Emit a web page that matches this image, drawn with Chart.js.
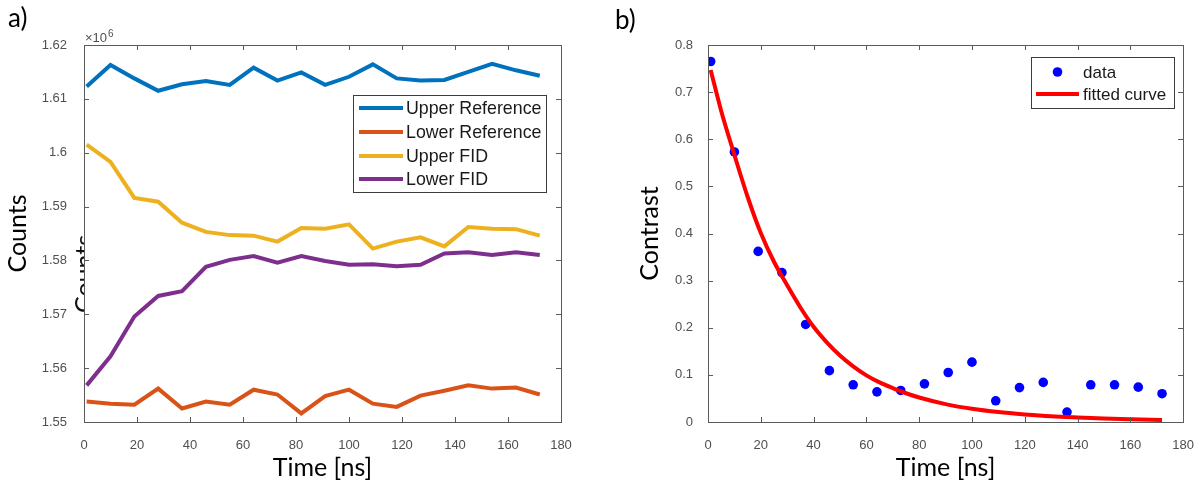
<!DOCTYPE html>
<html><head><meta charset="utf-8">
<script src="https://cdn.jsdelivr.net/npm/chart.js@4.4.1/dist/chart.umd.min.js"></script>
<style>
html,body{margin:0;padding:0;background:#fff;width:1202px;height:490px;overflow:hidden}
.panel{position:absolute;top:0}
canvas{display:block}
</style></head><body>
<div class="panel" style="left:0;width:600px;height:490px"><canvas id="c1" width="600" height="490"></canvas></div>
<div class="panel" style="left:600px;width:602px;height:490px"><canvas id="c2" width="602" height="490"></canvas></div>
<script>
// ---------- data ----------
const timeNs = [1,10,19,28,37,46,55,64,73,82,91,100,109,118,127,136,145,154,163,172];
// counts in units of 10^6
const upperReference = [1.6123,1.6163,1.6138,1.6115,1.6127,1.6133,1.6126,1.6158,1.6134,1.6149,1.6126,1.6141,1.6164,1.6138,1.6134,1.6135,1.6150,1.6165,1.6153,1.6143];
const lowerReference = [1.5538,1.5534,1.5532,1.5562,1.5525,1.5538,1.5532,1.5560,1.5551,1.5516,1.5548,1.5560,1.5534,1.5528,1.5549,1.5558,1.5568,1.5562,1.5564,1.5551];
const upperFID = [1.6015,1.5983,1.5916,1.5909,1.5870,1.5853,1.5847,1.5846,1.5835,1.5860,1.5859,1.5867,1.5822,1.5835,1.5843,1.5826,1.5862,1.5859,1.5858,1.5846];
const lowerFID = [1.5568,1.5622,1.5696,1.5734,1.5743,1.5788,1.5801,1.5808,1.5796,1.5808,1.5799,1.5792,1.5793,1.5789,1.5792,1.5813,1.5815,1.5810,1.5815,1.5810];
const contrastData = [0.765,0.573,0.362,0.317,0.207,0.109,0.079,0.064,0.067,0.081,0.105,0.127,0.045,0.073,0.084,0.021,0.079,0.079,0.074,0.060];
const fitTime = [1,5,10,15,20,25,30,35,40,45,50,55,60,65,70,75,80,90,100,110,120,130,140,150,160,172];
const fitCurve = [0.747,0.660,0.567,0.478,0.401,0.340,0.290,0.243,0.202,0.169,0.141,0.118,0.099,0.084,0.072,0.061,0.052,0.038,0.028,0.021,0.016,0.012,0.0095,0.0075,0.006,0.0045];
const xTickLabels = ['0','20','40','60','80','100','120','140','160','180'];
const countsTickLabels = ['1.55','1.56','1.57','1.58','1.59','1.6','1.61','1.62'];
const contrastTickLabels = ['0','0.1','0.2','0.3','0.4','0.5','0.6','0.7','0.8'];
const seriesNamesA = ['Upper Reference','Lower Reference','Upper FID','Lower FID'];
const seriesNamesB = ['data','fitted curve'];

// ---------- helpers ----------
const pts = (xs, ys) => xs.map((x, i) => ({x, y: ys[i]}));
const TICK_FONT = {family: '"Liberation Sans", Arial, sans-serif', size: 13};
const TICK_COLOR = '#4f4f4f';
const TITLE_FONT = {family: 'Lato, "Open Sans", sans-serif', size: 25};

const framePlugin = {
  id: 'frame',
  beforeDraw(chart, args, o) {
    const ctx = chart.ctx;
    ctx.save();
    ctx.fillStyle = '#fff';
    ctx.fillRect(0, 0, chart.width, chart.height);
    if (o.ghost) {
      ctx.beginPath();
      ctx.rect(0, 0, chart.chartArea.left, chart.height);
      ctx.clip();
      ctx.translate(o.ghost.x, o.ghost.y);
      ctx.rotate(-Math.PI / 2);
      ctx.fillStyle = '#111';
      ctx.font = '25px Lato, sans-serif';
      ctx.textAlign = 'center';
      ctx.textBaseline = 'alphabetic';
      ctx.fillText(o.ghost.text, 0, 0);
    }
    ctx.restore();
  },
  afterDatasetsDraw(chart, args, o) {
    const ctx = chart.ctx, a = chart.chartArea;
    const xs = chart.scales.x, ys = chart.scales.y;
    ctx.save();
    ctx.strokeStyle = '#5a5a5a';
    ctx.lineWidth = 1;
    ctx.beginPath();
    xs.ticks.forEach(t => {
      const p = Math.round(xs.getPixelForValue(t.value)) + 0.5;
      ctx.moveTo(p, a.bottom); ctx.lineTo(p, a.bottom - 5);
      ctx.moveTo(p, a.top); ctx.lineTo(p, a.top + 5);
    });
    ys.ticks.forEach(t => {
      const p = Math.round(ys.getPixelForValue(t.value)) + 0.5;
      ctx.moveTo(a.left, p); ctx.lineTo(a.left + 5, p);
      ctx.moveTo(a.right, p); ctx.lineTo(a.right - 5, p);
    });
    ctx.stroke();
    ctx.strokeRect(Math.round(a.left) + 0.5, Math.round(a.top) + 0.5, Math.round(a.right - a.left), Math.round(a.bottom - a.top));

    // legend inside plot
    const L = o.legend;
    ctx.fillStyle = '#fff';
    ctx.fillRect(L.x, L.y, L.w, L.h);
    ctx.strokeStyle = '#3c3c3c';
    ctx.strokeRect(L.x + 0.5, L.y + 0.5, L.w, L.h);
    ctx.font = L.font;
    ctx.textBaseline = 'middle';
    ctx.textAlign = 'left';
    chart.data.datasets.forEach((ds, i) => {
      const y = L.rows[i];
      if (ds.showLine === false) {
        ctx.fillStyle = ds.backgroundColor;
        ctx.beginPath();
        ctx.arc((L.sx0 + L.sx1) / 2, y, ds.pointRadius, 0, Math.PI * 2);
        ctx.fill();
      } else {
        ctx.strokeStyle = ds.borderColor;
        ctx.lineWidth = ds.borderWidth;
        ctx.beginPath();
        ctx.moveTo(L.sx0, y); ctx.lineTo(L.sx1, y);
        ctx.stroke();
      }
      ctx.fillStyle = '#1a1a1a';
      ctx.fillText(ds.label, L.tx, y + 1);
    });
    ctx.restore();
  },
  afterDraw(chart, args, o) {
    const ctx = chart.ctx;
    ctx.save();
    ctx.fillStyle = '#000';
    ctx.font = '26px Lato, sans-serif';
    ctx.textBaseline = 'alphabetic';
    ctx.fillText(o.panel.text, o.panel.x, o.panel.y);
    if (o.exponent) {
      const a = chart.chartArea;
      ctx.fillStyle = TICK_COLOR;
      ctx.font = '13px "Liberation Sans", Arial, sans-serif';
      ctx.fillText('\u00d710', a.left + 1, 42);
      const w = ctx.measureText('\u00d710').width;
      ctx.font = '10px "Liberation Sans", Arial, sans-serif';
      ctx.fillText('6', a.left + 1 + w + 1, 37);
    }
    ctx.restore();
  }
};

function axes(yMin, yMax, yStep, yLabels, yAxisWidth, yTitle, yTitlePad, yTickPad) {
  return {
    x: {
      type: 'linear', min: 0, max: 180,
      grid: {display: false}, border: {display: false},
      ticks: {stepSize: 20, font: TICK_FONT, color: TICK_COLOR, padding: 8,
        callback: (v) => xTickLabels[Math.round(v / 20)] ?? ''},
      title: {display: true, text: 'Time [ns]', font: TITLE_FONT, color: '#000', padding: {top: 0, bottom: 7}},
      afterFit: (s) => { s.height = 68; }
    },
    y: {
      type: 'linear', min: yMin, max: yMax,
      grid: {display: false}, border: {display: false},
      ticks: {stepSize: yStep, font: TICK_FONT, color: TICK_COLOR, padding: yTickPad,
        callback: (v) => yLabels[Math.round((v - yMin) / yStep)] ?? ''},
      title: {display: true, text: yTitle, font: TITLE_FONT, color: '#000', padding: {top: yTitlePad, bottom: 0}},
      afterFit: (s) => { s.width = yAxisWidth; }
    }
  };
}

Chart.defaults.animation = false;

new Chart(document.getElementById('c1'), {
  type: 'line',
  data: {
    datasets: [
      {label: seriesNamesA[0], data: pts(timeNs, upperReference), borderColor: '#0072BD', backgroundColor: '#0072BD'},
      {label: seriesNamesA[1], data: pts(timeNs, lowerReference), borderColor: '#D95319', backgroundColor: '#D95319'},
      {label: seriesNamesA[2], data: pts(timeNs, upperFID), borderColor: '#EDB120', backgroundColor: '#EDB120'},
      {label: seriesNamesA[3], data: pts(timeNs, lowerFID), borderColor: '#7E2F8E', backgroundColor: '#7E2F8E'}
    ].map(d => Object.assign(d, {borderWidth: 4, pointRadius: 0, tension: 0, fill: false}))
  },
  options: {
    responsive: false, devicePixelRatio: 1, animation: false,
    layout: {padding: {left: 0, right: 39, top: 45, bottom: 0}},
    scales: axes(1.55, 1.62, 0.01, countsTickLabels, 84, 'Counts', 3, 9),
    plugins: {
      legend: {display: false}, tooltip: {enabled: false},
      frame: {
        panel: {text: 'a)', x: 8, y: 27},
        exponent: true,
        ghost: {text: 'Counts', x: 93, y: 274},
        legend: {x: 353, y: 95, w: 193, h: 97, rows: [108, 132, 156, 179], sx0: 359, sx1: 403, tx: 406,
                 font: '17.8px "Liberation Sans", Arial, sans-serif'}
      }
    }
  },
  plugins: [framePlugin]
});

new Chart(document.getElementById('c2'), {
  type: 'line',
  data: {
    datasets: [
      {label: seriesNamesB[0], data: pts(timeNs, contrastData), showLine: false, pointRadius: 4.8,
       pointBackgroundColor: '#0000FF', backgroundColor: '#0000FF', borderColor: '#0000FF', pointBorderWidth: 0, order: 2},
      {label: seriesNamesB[1], data: pts(fitTime, fitCurve), borderColor: '#FF0000', backgroundColor: '#FF0000',
       borderWidth: 4, pointRadius: 0, cubicInterpolationMode: 'monotone', fill: false, order: 1}
    ]
  },
  options: {
    responsive: false, devicePixelRatio: 1, animation: false,
    layout: {padding: {left: 0, right: 16, top: 45, bottom: 0}},
    scales: axes(0, 0.8, 0.1, contrastTickLabels, 108, 'Contrast', 35, 7),
    plugins: {
      legend: {display: false}, tooltip: {enabled: false},
      frame: {
        panel: {text: 'b)', x: 15, y: 29},
        legend: {x: 431, y: 57, w: 143, h: 51, rows: [72, 94], sx0: 436, sx1: 479, tx: 483,
                 font: '17px "Liberation Sans", Arial, sans-serif'}
      }
    }
  },
  plugins: [framePlugin]
});
</script>
</body></html>
